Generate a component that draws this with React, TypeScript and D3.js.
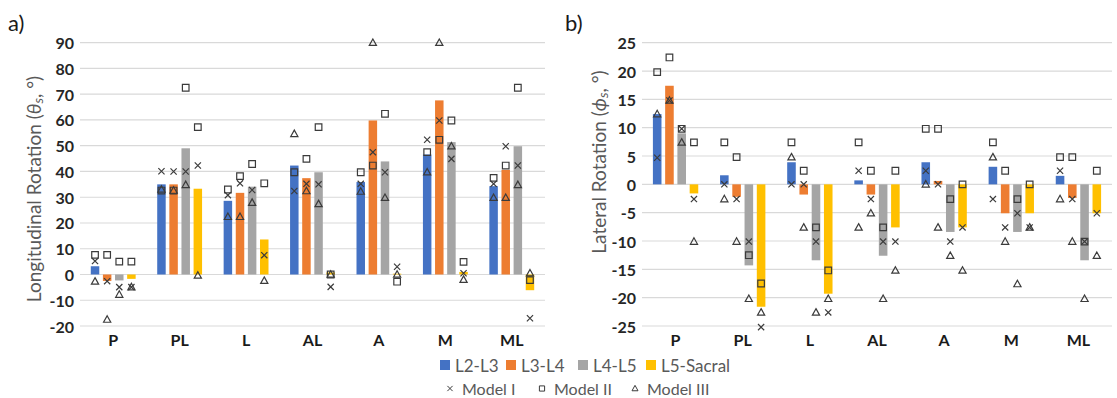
import React, { useEffect, useRef } from "react";
import * as d3 from "d3";

const categories = ["P", "PL", "L", "AL", "A", "M", "ML"];
const segments = ["L2-L3", "L3-L4", "L4-L5", "L5-Sacral"];
const segmentColors = ["#4472C4", "#ED7D31", "#A5A5A5", "#FFC000"];
const models = ["Model I", "Model II", "Model III"];

// a) longitudinal rotation, one row per segment (L2-L3, L3-L4, L4-L5, L5-Sacral)
const longBars = [
    [3.2, 35, 28.6, 42.3, 35.9, 46.6, 34.3],
    [-2.5, 35, 31.7, 37.4, 59.8, 67.6, 40.6],
    [-2.3, 49, 34.1, 39.7, 43.9, 51.4, 49.8],
    [-1.7, 33.3, 13.6, 0.8, 0.3, 1, -6.1],
];
const longModelI = [
    [5.2, 40.1, 30.8, 32.4, 35.2, 52.3, 35.2],
    [-2.6, 40, 35.4, 35.2, 47.5, 59.8, 49.8],
    [-4.9, 40, 32.8, 35, 39.7, 44.9, 42.3],
    [-4.9, 42.3, 7.5, -4.8, 3, 0.5, -17],
];
const longModelII = [
    [7.6, 32.6, 33, 39.7, 39.7, 47.5, 37.5],
    [7.6, 32.6, 38.2, 44.9, 42.3, 52.3, 42.3],
    [5, 72.5, 42.9, 57.2, 62.4, 59.8, 72.5],
    [5, 57.2, 35.4, 0, -2.8, 4.9, -2.2],
];
const longModelIII = [
    [-2.7, 33, 22.4, 54.6, 32.2, 39.7, 29.8],
    [-17.5, 32.6, 22.4, 32.4, 90, 90, 29.8],
    [-7.8, 34.8, 27.9, 27.4, 29.8, 49.8, 34.8],
    [-4.9, -0.4, -2.4, 0, 0, -2, 0.5],
];

// b) lateral rotation
const latBars = [
    [12.4, 1.6, 3.9, 0.7, 3.9, 3.1, 1.5],
    [17.4, -2.2, -1.8, -1.8, 0.6, -5.1, -2.4],
    [9, -14.3, -13.4, -12.6, -8.4, -8.4, -13.4],
    [-1.6, -21.6, -19.3, -7.6, -7.6, -5.1, -5.1],
];
const latModelI = [
    [4.7, 0, 0, 2.4, 2.4, -2.6, 2.4],
    [14.8, -2.6, 0, -2.6, 0, -7.6, -2.6],
    [9.8, -10.1, -10.1, -10.1, -10.1, -5.1, -10.1],
    [-2.6, -25.2, -22.6, -10.1, -7.6, -7.6, -5.1],
];
const latModelII = [
    [19.8, 7.4, 7.4, 7.4, 9.8, 7.4, 4.8],
    [22.4, 4.8, 2.4, 2.4, 9.8, 2.4, 4.8],
    [9.8, -12.5, -7.6, -7.6, -2.6, -2.6, -10.1],
    [7.4, -17.5, -15.2, 2.4, 0, 0, 2.4],
];
const latModelIII = [
    [12.4, -2.6, 4.8, -7.6, 0, 4.8, -2.6],
    [14.8, -10.1, -7.6, -5.1, -7.6, -10.1, -10.1],
    [7.4, -20.2, -22.6, -20.2, -12.6, -17.6, -20.2],
    [-10.1, -22.6, -20.2, -15.2, -15.2, -7.6, -12.6],
];

const longTicks = d3.range(-20, 91, 10);
const latTicks = d3.range(-25, 26, 5);

const FONT = "Lato, 'Open Sans', sans-serif";
const MARK = "#3b3b3b";

// simple marker shapes, size = half-width squared
const symTimes = {
    draw(ctx, size) {
        const r = Math.sqrt(size);
        ctx.moveTo(-r, -r); ctx.lineTo(r, r);
        ctx.moveTo(-r, r); ctx.lineTo(r, -r);
    }
};
const symSquare = {
    draw(ctx, size) {
        const r = Math.sqrt(size);
        ctx.rect(-r, -r, 2 * r, 2 * r);
    }
};
const symTriangle = {
    draw(ctx, size) {
        const r = Math.sqrt(size);
        ctx.moveTo(0, -r * 1.05);
        ctx.lineTo(r, r * 0.75);
        ctx.lineTo(-r, r * 0.75);
        ctx.closePath();
    }
};
const symbolTypes = [symTimes, symSquare, symTriangle];
const symbolSizes = [3.1 * 3.1, 3.3 * 3.3, 3.6 * 3.6];

const drawPanel = (svg, opts) => {
    const g = svg.append("g");
    const top = 42.7, bottom = 326;

    const x = d3.scaleBand().domain(categories).range([opts.x0, opts.x1])
        .paddingInner(0.27).paddingOuter(0.135);
    const xs = d3.scaleBand().domain(segments).range([0, x.bandwidth()])
        .paddingInner(0.3).paddingOuter(0.15);
    const y = d3.scaleLinear().domain(d3.extent(opts.ticks)).range([bottom, top]);

    // gridlines
    g.selectAll(".grid").data(opts.ticks).enter().append("line")
        .attr("x1", opts.x0).attr("x2", opts.x1)
        .attr("y1", d => y(d)).attr("y2", d => y(d))
        .attr("stroke", "#D9D9D9").attr("stroke-width", 1.2);

    // tick labels
    g.selectAll(".tick").data(opts.ticks).enter().append("text")
        .attr("x", opts.x0 - 6).attr("y", d => y(d))
        .attr("text-anchor", "end").attr("dominant-baseline", "central")
        .style("font", `bold 16px ${FONT}`).attr("fill", "#262626")
        .text(d => d);

    // category labels
    g.selectAll(".cat").data(categories).enter().append("text")
        .attr("x", d => x(d) + x.bandwidth() / 2).attr("y", 339)
        .attr("text-anchor", "middle").attr("dominant-baseline", "central")
        .style("font", `bold 16px ${FONT}`).attr("fill", "#1a1a1a")
        .text(d => d);

    // bars
    segments.forEach((s, si) => {
        g.selectAll(`.bar${si}`).data(opts.bars[si]).enter().append("rect")
            .attr("x", (d, ci) => x(categories[ci]) + xs(s))
            .attr("width", xs.bandwidth())
            .attr("y", d => y(Math.max(0, d)))
            .attr("height", d => Math.abs(y(d) - y(0)))
            .attr("fill", segmentColors[si]);
    });

    // model markers
    opts.models.forEach((mdl, mi) => {
        const path = d3.symbol().type(symbolTypes[mi]).size(symbolSizes[mi])();
        segments.forEach((s, si) => {
            g.selectAll(`.m${mi}${si}`).data(mdl[si]).enter().append("path")
                .attr("d", path)
                .attr("transform", (d, ci) =>
                    `translate(${x(categories[ci]) + xs(s) + xs.bandwidth() / 2}, ${y(d)})`)
                .attr("fill", "none").attr("stroke", MARK).attr("stroke-width", 1.2);
        });
    });

    // axis title
    const t = g.append("text")
        .attr("transform", `translate(${opts.titleX}, ${opts.titleY}) rotate(-90)`)
        .attr("text-anchor", "middle").attr("dominant-baseline", "central")
        .style("font", `19px ${FONT}`).attr("fill", "#595959");
    t.append("tspan").text(opts.title + " (");
    t.append("tspan").style("font-style", "italic").text(opts.symbol);
    t.append("tspan").attr("dy", 4).style("font-size", "14px").style("font-style", "italic").text("s");
    t.append("tspan").attr("dy", -4).text(", °)");

    // panel label
    g.append("text").attr("x", opts.labelX).attr("y", 22)
        .attr("dominant-baseline", "central")
        .style("font", `22px ${FONT}`).attr("fill", "#1a1a1a")
        .text(opts.label);
};

const drawLegend = (svg) => {
    const g = svg.append("g");
    const row1 = [440, 506, 578, 646];
    segments.forEach((s, i) => {
        g.append("rect").attr("x", row1[i]).attr("y", 360).attr("width", 10).attr("height", 10)
            .attr("fill", segmentColors[i]);
        g.append("text").attr("x", row1[i] + 15).attr("y", 365.5)
            .attr("dominant-baseline", "central")
            .style("font", `17px ${FONT}`).attr("fill", "#595959").text(s);
    });
    const row2 = [450, 542, 635];
    const legendSizes = [2.6 * 2.6, 2.6 * 2.6, 3 * 3];
    models.forEach((m, i) => {
        g.append("path").attr("d", d3.symbol().type(symbolTypes[i]).size(legendSizes[i])())
            .attr("transform", `translate(${row2[i]}, 388.5)`)
            .attr("fill", "none").attr("stroke", MARK).attr("stroke-width", 1);
        g.append("text").attr("x", row2[i] + 12).attr("y", 388.5)
            .attr("dominant-baseline", "central")
            .style("font", `16px ${FONT}`).attr("fill", "#595959").text(m);
    });
};

const App = () => {
    const svgRef = useRef(null);

    useEffect(() => {
        const svg = d3.select(svgRef.current);
        svg.selectAll("*").remove();

        drawPanel(svg, {
            x0: 80, x1: 545, ticks: longTicks,
            bars: longBars, models: [longModelI, longModelII, longModelIII],
            title: "Longitudinal Rotation", symbol: "θ", titleX: 33, titleY: 189,
            label: "a)", labelX: 8,
        });
        drawPanel(svg, {
            x0: 642, x1: 1112, ticks: latTicks,
            bars: latBars, models: [latModelI, latModelII, latModelIII],
            title: "Lateral Rotation", symbol: "ϕ", titleX: 598, titleY: 162,
            label: "b)", labelX: 565,
        });
        drawLegend(svg);
    }, []);

    return (
        <svg
            ref={svgRef}
            width={1117}
            height={398}
            style={{ position: "absolute", left: 0, top: 0, background: "#fff" }}
        />
    );
};

export default App;
